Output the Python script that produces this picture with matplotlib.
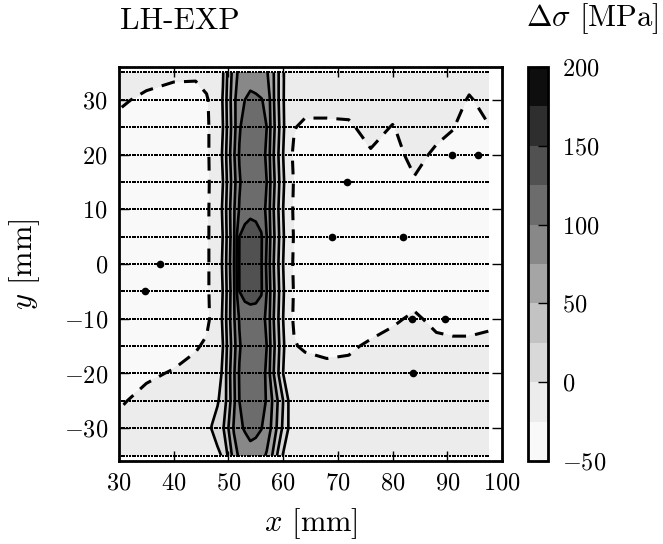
import numpy as np
import matplotlib
matplotlib.use("Agg")
import matplotlib.pyplot as plt

plt.rcParams['font.family'] = 'serif'
plt.rcParams['font.serif'] = ['cmr10']
plt.rcParams['mathtext.fontset'] = 'cm'
plt.rcParams['axes.formatter.use_mathtext'] = True
plt.rcParams['axes.unicode_minus'] = True

# grid nodes (mm)
x_nodes = [30.5, 35, 40, 44, 46, 47, 48, 49, 50, 51, 52, 53, 54, 55, 56, 57,
           58, 59, 60, 61, 62, 64, 68, 72, 76, 80, 84, 88, 91, 94, 97.5]
y_rows = [35, 30, 25, 20, 15, 10, 5, 0, -5, -10, -15, -20, -25, -30, -35]

# stress difference [MPa], one line per row (top to bottom)
dsig = [
    [-15, -15, -18, -19, -18, -16, -14, -2, 33, 62, 82, 88, 92, 90, 86, 78, 58, 30, 2, -12, -16, -15, -15, -15, -15, -16, -15, -15, -16, -16, -15],
    [-22, -30, -38, -38, -27, -20, -17, 2, 38, 68, 94, 100, 104, 103, 101, 96, 60, 30, 2, -16, -19, -17, -17, -17, -16, -16, -15, -15, -16, -27, -18],
    [-33, -35, -38, -38, -28, -21, -18, 0, 35, 66, 97, 112, 117, 116, 112, 100, 63, 34, 4, -18, -24, -29, -29, -28, -18, -26, -16, -18, -24, -34, -26],
    [-35, -36, -37, -36, -28, -21, -17, 4, 40, 72, 102, 114, 118, 116, 110, 96, 58, 29, 0, -19, -28, -34, -35, -34, -27, -33, -18, -29, -33, -36, -33],
    [-36, -37, -37, -36, -29, -21, -18, 0, 35, 66, 97, 112, 117, 116, 112, 100, 63, 34, 4, -18, -26, -36, -37, -36, -35, -36, -27, -36, -37, -37, -36],
    [-37, -37, -36, -35, -28, -21, -17, 4, 40, 72, 102, 114, 118, 116, 110, 96, 58, 29, 0, -19, -27, -36, -37, -38, -37, -37, -35, -37, -37, -37, -36],
    [-37, -37, -36, -35, -28, -21, -18, 1, 37, 72, 125, 134, 138, 136, 128, 100, 62, 33, 3, -18, -26, -36, -37, -37, -37, -36, -36, -37, -37, -37, -36],
    [-37, -36, -36, -35, -28, -21, -17, 4, 40, 75, 126, 133, 137, 135, 127, 96, 58, 29, 0, -19, -27, -36, -37, -37, -36, -36, -35, -36, -37, -37, -36],
    [-37, -36, -36, -35, -28, -21, -18, 1, 37, 72, 125, 134, 137, 136, 128, 100, 62, 33, 3, -18, -26, -36, -36, -36, -36, -35, -33, -36, -36, -36, -36],
    [-35, -35, -35, -34, -30, -21, -17, 4, 40, 72, 102, 110, 112, 111, 108, 96, 58, 29, 0, -19, -27, -35, -37, -36, -34, -28, -22, -30, -32, -32, -30],
    [-36, -36, -35, -27, -22, -19, -16, 0, 35, 66, 97, 112, 117, 116, 112, 100, 63, 34, 4, -16, -24, -27, -30, -28, -22, -18, -17, -20, -21, -21, -19],
    [-35, -29, -23, -18, -17, -15, -11, 4, 40, 72, 102, 114, 118, 116, 110, 96, 58, 29, 0, -15, -17, -18, -19, -19, -17, -16, -16, -17, -17, -17, -17],
    [-27, -18, -17, -16, -12, -6, -2, 8, 38, 70, 100, 112, 117, 115, 110, 98, 75, 50, 25, -1, -8, -15, -16, -16, -16, -16, -16, -16, -16, -16, -16],
    [-18, -17, -16, -15, -5, 1, 8, 22, 50, 78, 96, 102, 108, 106, 101, 90, 70, 45, 20, -1, -9, -15, -15, -15, -15, -15, -15, -15, -15, -15, -15],
    [-15, -15, -15, -15, -14, -10, -4, 2, 30, 62, 80, 88, 91, 89, 84, 72, 50, 22, -2, -12, -14, -15, -15, -15, -15, -15, -15, -15, -15, -15, -15],
]

# measurement lines
scan_y = [35, 30, 25, 20, 15, 10, 5, 0, -5, -10, -15, -20, -25, -30, -35]
scan_x0, scan_x1, scan_dx = 30.5, 97.5, 0.5

# tiny closed contours that show up as dots
spot_x = [90.8, 95.6, 71.6, 68.9, 81.9, 37.5, 34.8, 83.6, 89.6, 83.7]
spot_y = [20, 20, 15, 5, 5, 0, -5, -10, -10, -20]

levels = np.arange(-50, 201, 25)

X = np.array(x_nodes)
Y = np.array(y_rows)[::-1]
Z = np.array(dsig, dtype=float)[::-1]

fig = plt.figure(figsize=(6.63, 5.44), dpi=100)
ax = fig.add_axes([119/663, 1 - 461/544, 383/663, 394/544])
cax = fig.add_axes([528/663, 1 - 461/544, 20/663, 394/544])

cf = ax.contourf(X, Y, Z, levels=levels, cmap='Greys')
line_styles = [(0, (4.5, 3)) if lv < 0 else 'solid' for lv in levels]
line_widths = [2.2 if lv < 0 else 1.9 for lv in levels]
ax.contour(X, Y, Z, levels=levels, colors='k', linewidths=line_widths,
           linestyles=line_styles)

xs = np.arange(scan_x0, scan_x1 + 0.01, scan_dx)
for yy in scan_y:
    ax.plot(xs, np.full_like(xs, yy), 's', color='k', ms=2.0, mew=0)
ax.plot(spot_x, spot_y, 'o', color='k', ms=5.5, mew=0)

ax.set_xlim(30, 100)
ax.set_ylim(-36, 36)
ax.set_xticks([30, 40, 50, 60, 70, 80, 90, 100])
ax.set_yticks([-30, -20, -10, 0, 10, 20, 30])
ax.tick_params(direction='in', top=True, right=True, length=7, width=1,
               labelsize=17.5, pad=8)
for s in ax.spines.values():
    s.set_linewidth(2)

ax.set_xlabel(r'$x$ [mm]', fontsize=22)
ax.set_ylabel(r'$y$ [mm]', fontsize=22)
ax.xaxis.set_label_coords(0.5, -0.115)
ax.yaxis.set_label_coords(-0.201, 0.5)

cb = fig.colorbar(cf, cax=cax, ticks=[-50, 0, 50, 100, 150, 200])
cb.outline.set_linewidth(2)
cax.tick_params(direction='in', length=7, width=1, labelsize=17.5, pad=10)

fig.text(120/663, 1 - 29/544, 'LH-EXP', fontsize=22.5, va='baseline')
fig.text(592/663, 1 - 19/544, r'$\Delta\sigma$ [MPa]', fontsize=22,
         ha='center', va='center')

fig.savefig('out.png', dpi=100)
